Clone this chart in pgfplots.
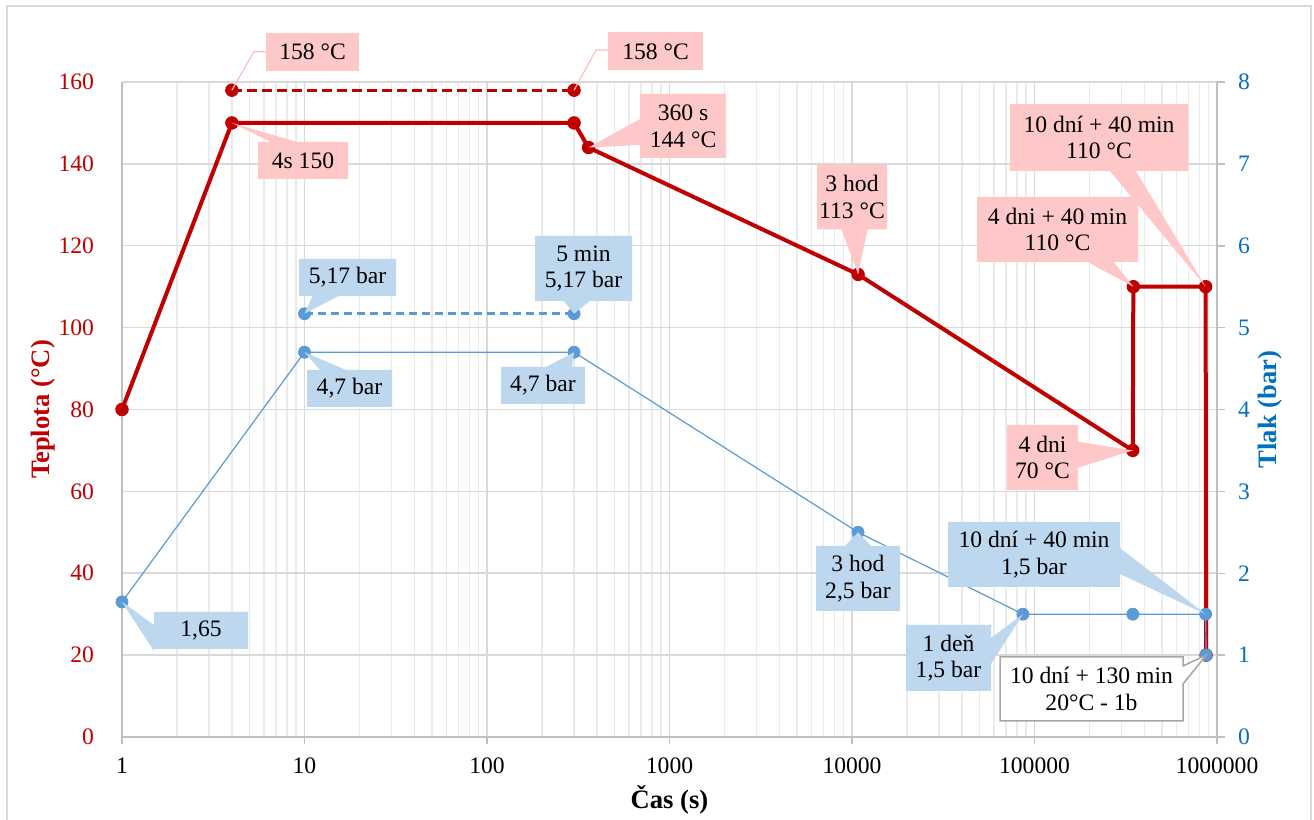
\documentclass[border=0pt]{standalone}
\usepackage{fontspec}
\setmainfont{Liberation Serif}
\usepackage{pgfplots}
\pgfplotsset{compat=1.18}
\usetikzlibrary{shapes.callouts}
\definecolor{tred}{HTML}{C00000}
\definecolor{tblue}{HTML}{5B9BD5}
\definecolor{tbluetxt}{HTML}{0070C0}
\definecolor{pinkfill}{HTML}{FFC8C8}
\definecolor{pinkline}{HTML}{FFBDBD}
\definecolor{bluefill}{HTML}{BDD7EE}
\definecolor{gridmaj}{HTML}{D9D9D9}
\definecolor{gridmin}{HTML}{EBEBEB}
\definecolor{axgray}{HTML}{BFBFBF}
\definecolor{boxgray}{HTML}{A6A6A6}

\begin{document}
\begin{tikzpicture}
\useasboundingbox (0,0) rectangle (657pt,410pt);
\fill[white] (0,0) rectangle (657pt,410pt);
\draw[gridmaj, line width=1pt] (3.5pt,-5pt) -- (3.5pt,407pt) -- (655.5pt,407pt) -- (655.5pt,-5pt);

\begin{axis}[
 scale only axis, width=547.5pt, height=327.5pt,
 at={(61pt,41.5pt)}, anchor=south west,
 xmode=log, xmin=1, xmax=1000000,
 clip=false,
 /pgf/number format/assume math mode=true,
 ticklabel style={font=\fontsize{11.8}{13}\selectfont},
 label style={font=\bfseries\fontsize{13.3}{15}\selectfont},
 ymin=0, ymax=160, ytick={0,20,...,160},
 xtick={1,10,100,1000,10000,100000,1000000},
 xticklabels={1,10,100,1000,10000,100000,1000000},
 minor xtick={2,3,4,5,6,7,8,9,20,30,40,50,60,70,80,90,200,300,400,500,600,700,800,900,2000,3000,4000,5000,6000,7000,8000,9000,20000,30000,40000,50000,60000,70000,80000,90000,200000,300000,400000,500000,600000,700000,800000,900000},
 grid=both,
 major grid style={gridmaj, line width=0.75pt},
 minor grid style={gridmin, line width=0.75pt},
 axis x line*=bottom, axis y line*=left,
 axis line style={-, axgray, line width=0.75pt},
 tick align=outside,
 major tick length=3.5pt, minor tick length=0pt,
 tick style={axgray, line width=0.75pt},
 ytick style={draw=none},
 yticklabel style={tred, xshift=-7pt},
 xticklabel style={yshift=-3.5pt},
 ylabel={Teplota (°C)},
 ylabel style={at={(axis description cs:-0.0721,0.5)}, anchor=center, tred},
 xlabel={Čas (s)},
 xlabel style={at={(axis description cs:0.5,-0.0962)}, anchor=center},
]
\addplot[tred, line width=2pt, line join=round, mark=*, mark size=3.1pt, mark options={solid, line width=0.5pt}]
 coordinates {(1,80)(4,150)(300,150)(360,144)(10800,113)(345600,70)(348000,110)(866400,110)(871800,20)};
\addplot[tred, line width=1.5pt, dash pattern=on 5pt off 2.5pt, mark=*, mark size=3.1pt, mark options={solid, line width=0.5pt}]
 coordinates {(4,158)(300,158)};
\coordinate (r158a) at (axis cs:4,158);
\coordinate (r158b) at (axis cs:300,158);
\coordinate (r150) at (axis cs:4,150);
\coordinate (r144) at (axis cs:360,144);
\coordinate (r113) at (axis cs:10800,113);
\coordinate (r110a) at (axis cs:348000,110);
\coordinate (r110b) at (axis cs:866400,110);
\coordinate (r70) at (axis cs:345600,70);
\end{axis}

\begin{axis}[
 scale only axis, width=547.5pt, height=327.5pt,
 at={(61pt,41.5pt)}, anchor=south west,
 xmode=log, xmin=1, xmax=1000000,
 clip=false,
 /pgf/number format/assume math mode=true,
 ticklabel style={font=\fontsize{11.8}{13}\selectfont},
 label style={font=\bfseries\fontsize{13.3}{15}\selectfont},
 ymin=0, ymax=8, ytick={0,1,...,8},
 axis x line=none, axis y line*=right,
 axis line style={-, axgray, line width=0.75pt},
 tick align=outside, major tick length=4pt,
 tick style={axgray, line width=0.75pt},
 yticklabel style={tbluetxt, xshift=3pt},
 ylabel={Tlak (bar)},
 ylabel style={at={(axis description cs:1.0484,0.5)}, anchor=center, tbluetxt},
]
\addplot[tblue, line width=0.6pt, mark=*, mark size=3pt, mark options={line width=0.4pt}]
 coordinates {(1,1.65)(10,4.7)(300,4.7)(10800,2.5)(86400,1.5)(345600,1.5)(866400,1.5)(871800,1)};
\addplot[tblue, line width=1.25pt, dash pattern=on 4pt off 2.5pt, mark=*, mark size=3pt, mark options={solid, line width=0.4pt}]
 coordinates {(10,5.17)(300,5.17)};
\coordinate (b517a) at (axis cs:10,5.17);
\coordinate (b517b) at (axis cs:300,5.17);
\coordinate (b47a) at (axis cs:10,4.7);
\coordinate (b47b) at (axis cs:300,4.7);
\coordinate (b165) at (axis cs:1,1.65);
\coordinate (b25) at (axis cs:10800,2.5);
\coordinate (b15a) at (axis cs:86400,1.5);
\coordinate (b15b) at (axis cs:866400,1.5);
\coordinate (b1) at (axis cs:871800,1);
\end{axis}

\tikzset{
 lab/.style={align=center, inner sep=1pt, font=\fontsize{11.8}{13.3}\selectfont, text=black},
 pk/.style={lab, rectangle callout, fill=pinkfill, callout pointer width=13pt},
 bl/.style={lab, rectangle callout, fill=bluefill, callout pointer width=13pt},
}
% 158 leaders
\draw[pinkline, line width=0.6pt] (133pt,384.15pt) -- (127pt,384.15pt) -- (r158a);
\draw[pinkline, line width=0.6pt] (304pt,385pt) -- (298pt,385pt) -- (r158b);
\node[lab, fill=pinkfill, minimum width=46.5pt, minimum height=19pt] at (156.25pt,384pt) {158 °C};
\node[lab, fill=pinkfill, minimum width=47.5pt, minimum height=19pt] at (327.75pt,384.25pt) {158 °C};

\node[pk, minimum width=45pt, minimum height=18.5pt, callout absolute pointer={(r150)}] at (151.5pt,329.75pt) {4s 150};
\node[pk, minimum width=43pt, minimum height=32pt, callout absolute pointer={(r144)}] at (341.5pt,347pt) {360 s\\144 °C};
\node[pk, minimum width=35pt, minimum height=32.5pt, callout absolute pointer={(r113)}] at (426pt,311.5pt) {3 hod\\113 °C};
\node[pk, minimum width=80.5pt, minimum height=32.5pt, callout absolute pointer={(r110a)}] at (528.75pt,295.25pt) {4 dni + 40 min\\110 °C};
\node[pk, minimum width=89pt, minimum height=33.5pt, callout absolute pointer={(r110b)}] at (549.5pt,341.25pt) {10 dní + 40 min\\110 °C};
\node[pk, minimum width=35.5pt, minimum height=32.5pt, callout absolute pointer={(r70)}] at (521.25pt,181.25pt) {4 dni\\70 °C};

\node[bl, minimum width=48.5pt, minimum height=18.5pt, callout absolute pointer={(b517a)}] at (173.75pt,271.25pt) {5,17 bar};
\node[bl, minimum width=48.5pt, minimum height=32.5pt, callout absolute pointer={(b517b)}] at (291.75pt,275.75pt) {5 min\\5,17 bar};
\node[bl, minimum width=42.5pt, minimum height=18.5pt, callout absolute pointer={(b47a)}] at (174.75pt,215.75pt) {4,7 bar};
\node[bl, minimum width=42pt, minimum height=18.5pt, callout absolute pointer={(b47b)}] at (271.5pt,217.25pt) {4,7 bar};
\node[bl, minimum width=47pt, minimum height=18.5pt, callout absolute pointer={(b165)}] at (100.5pt,94.75pt) {1,65};
\node[bl, minimum width=42pt, minimum height=32.5pt, callout absolute pointer={(b25)}] at (429pt,120.75pt) {3 hod\\2,5 bar};
\node[bl, minimum width=42.5pt, minimum height=33pt, callout absolute pointer={(b15a)}] at (474.25pt,81pt) {1 deň\\1,5 bar};
\node[bl, minimum width=86pt, minimum height=32.5pt, callout absolute pointer={(b15b)}] at (517pt,132.75pt) {10 dní + 40 min\\1,5 bar};
\node[lab, rectangle callout, fill=white, draw=boxgray, line width=0.75pt, callout pointer width=9pt, minimum width=91.5pt, minimum height=32pt, callout absolute pointer={(b1)}] at (545.75pt,65.5pt) {10 dní + 130 min\\20°C - 1b};
\end{tikzpicture}
\end{document}
